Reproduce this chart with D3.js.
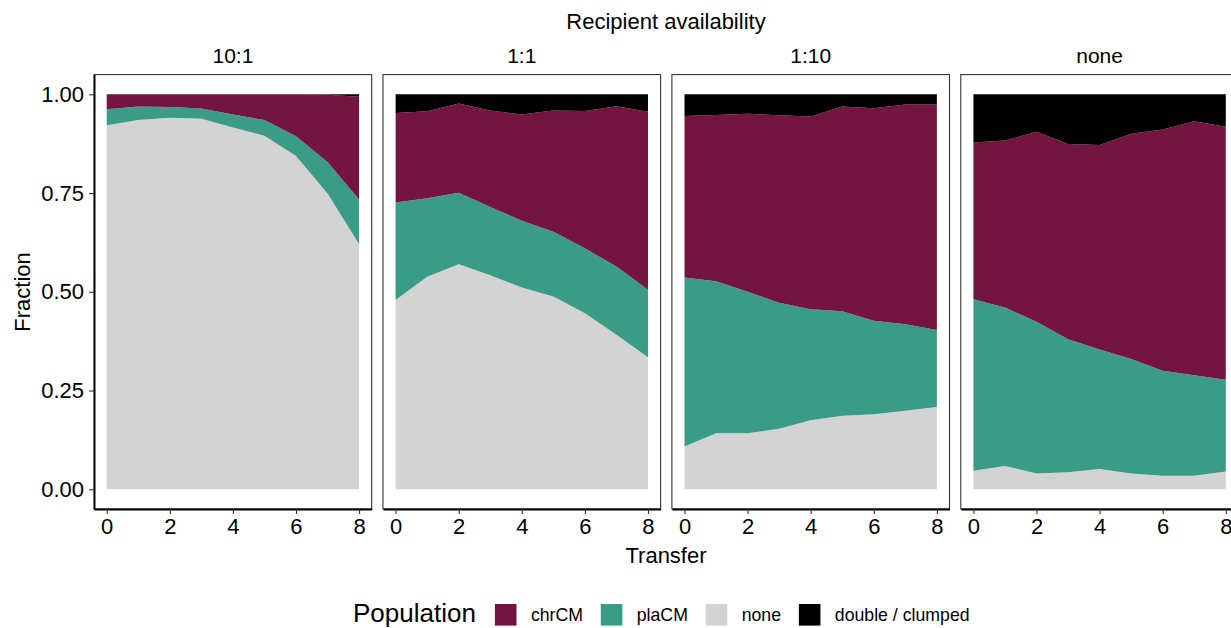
<!DOCTYPE html>
<html>
<head>
<meta charset="utf-8">
<script src="https://cdn.jsdelivr.net/npm/d3@7"></script>
<style>
  html, body { margin: 0; padding: 0; background: #ffffff; }
  svg { display: block; }
  text { font-family: "Liberation Sans", Arial, Helvetica, sans-serif; fill: #000; }
</style>
</head>
<body>
<svg id="chart" width="1231" height="628"></svg>
<script>
// Transfers on the x axis and recipient-availability facets
const transfers = [0, 1, 2, 3, 4, 5, 6, 7, 8];
const categories = ["10:1", "1:1", "1:10", "none"];
const xTicks = [0, 2, 4, 6, 8];
const yTicks = [0, 0.25, 0.5, 0.75, 1];

// Fraction of each population per transfer, one row per facet (same order as categories)
const nonePop = [
  [0.922, 0.935, 0.941, 0.938, 0.916, 0.895, 0.844, 0.749, 0.621],
  [0.479, 0.538, 0.570, 0.542, 0.511, 0.488, 0.446, 0.391, 0.334],
  [0.108, 0.142, 0.142, 0.153, 0.175, 0.186, 0.190, 0.199, 0.208],
  [0.047, 0.059, 0.040, 0.043, 0.051, 0.040, 0.034, 0.034, 0.045]
];
const plaCM = [
  [0.040, 0.034, 0.027, 0.026, 0.033, 0.040, 0.050, 0.080, 0.113],
  [0.247, 0.199, 0.181, 0.173, 0.169, 0.164, 0.164, 0.173, 0.171],
  [0.428, 0.385, 0.358, 0.319, 0.281, 0.265, 0.237, 0.219, 0.195],
  [0.434, 0.401, 0.384, 0.337, 0.303, 0.290, 0.266, 0.255, 0.232]
];
const chrCM = [
  [0.038, 0.031, 0.032, 0.036, 0.051, 0.065, 0.106, 0.170, 0.260],
  [0.227, 0.220, 0.226, 0.244, 0.269, 0.307, 0.348, 0.406, 0.451],
  [0.409, 0.421, 0.451, 0.475, 0.488, 0.518, 0.538, 0.556, 0.571],
  [0.397, 0.423, 0.481, 0.494, 0.518, 0.570, 0.611, 0.643, 0.641]
];
const doubleClumped = [
  [0.000, 0.000, 0.000, 0.000, 0.000, 0.000, 0.000, 0.001, 0.006],
  [0.047, 0.043, 0.023, 0.041, 0.051, 0.041, 0.042, 0.030, 0.044],
  [0.055, 0.052, 0.049, 0.053, 0.056, 0.031, 0.035, 0.026, 0.026],
  [0.122, 0.117, 0.095, 0.126, 0.128, 0.100, 0.089, 0.068, 0.082]
];

// Stack order (bottom to top) and legend order
const stackKeys = ["none", "plaCM", "chrCM", "double / clumped"];
const legendKeys = ["chrCM", "plaCM", "none", "double / clumped"];
const colors = {
  "chrCM": "#731441",
  "plaCM": "#3a9c87",
  "none": "#d3d3d3",
  "double / clumped": "#000000"
};
const seriesByKey = {
  "none": nonePop,
  "plaCM": plaCM,
  "chrCM": chrCM,
  "double / clumped": doubleClumped
};

const svg = d3.select("#chart");

// Facet geometry
const panelLeft0 = 94.1;
const panelStep = 288.9;
const panelW = 277.6;
const panelTop = 74.6;
const panelBottom = 509;

const y = d3.scaleLinear().domain([-0.05, 1.05]).range([panelBottom, panelTop]);
const stack = d3.stack().keys(stackKeys);

categories.forEach((cat, ci) => {
  const left = panelLeft0 + ci * panelStep;
  const x = d3.scaleLinear().domain([-0.4, 8.4]).range([left, left + panelW]);

  const rows = transfers.map((t, i) => {
    const row = { transfer: t };
    stackKeys.forEach(k => { row[k] = seriesByKey[k][ci][i]; });
    return row;
  });
  const layers = stack(rows);

  const area = d3.area()
    .x(d => x(d.data.transfer))
    .y0(d => y(d[0]))
    .y1(d => y(d[1]));

  const g = svg.append("g").attr("class", "panel");

  g.selectAll("path.layer")
    .data(layers)
    .join("path")
    .attr("class", "layer")
    .attr("fill", d => colors[d.key])
    .attr("d", area);

  // panel frame
  g.append("rect")
    .attr("x", left).attr("y", panelTop)
    .attr("width", panelW).attr("height", panelBottom - panelTop)
    .attr("fill", "none").attr("stroke", "#333").attr("stroke-width", 1.1);

  // x axis
  const xAxis = d3.axisBottom(x).tickValues(xTicks).tickSize(5).tickSizeOuter(0)
    .tickPadding(4).tickFormat(d3.format("d"));
  const ga = svg.append("g").attr("transform", `translate(0,${panelBottom})`).call(xAxis);
  ga.select(".domain").attr("stroke", "#000").attr("stroke-width", 1.8);
  ga.selectAll(".tick line").attr("stroke", "#333").attr("stroke-width", 1.1);
  ga.selectAll(".tick text").attr("font-size", 22).attr("fill", "#000")
    .attr("font-family", "Liberation Sans, Arial, sans-serif");

  // strip label
  svg.append("text")
    .attr("x", left + panelW / 2).attr("y", 63)
    .attr("text-anchor", "middle").attr("font-size", 21)
    .text(cat);

  if (ci === 0) {
    const yAxis = d3.axisLeft(y).tickValues(yTicks).tickSize(5).tickSizeOuter(0)
      .tickPadding(5).tickFormat(d3.format(".2f"));
    const gy = svg.append("g").attr("transform", `translate(${left},0)`).call(yAxis);
    gy.select(".domain").attr("stroke", "#000").attr("stroke-width", 1.8);
    gy.selectAll(".tick line").attr("stroke", "#333").attr("stroke-width", 1.1);
    gy.selectAll(".tick text").attr("font-size", 22).attr("fill", "#000")
      .attr("font-family", "Liberation Sans, Arial, sans-serif");
  }
});

// Titles
svg.append("text")
  .attr("x", 666).attr("y", 29)
  .attr("text-anchor", "middle").attr("font-size", 22)
  .text("Recipient availability");

svg.append("text")
  .attr("x", 666).attr("y", 563)
  .attr("text-anchor", "middle").attr("font-size", 22)
  .text("Transfer");

svg.append("text")
  .attr("transform", "translate(30,292) rotate(-90)")
  .attr("text-anchor", "middle").attr("font-size", 22)
  .text("Fraction");

// Legend
const legend = svg.append("g").attr("class", "legend");
const legTitle = legend.append("text")
  .attr("x", 353).attr("y", 621.5)
  .attr("font-size", 26)
  .text("Population");
let lx = 353 + legTitle.node().getComputedTextLength() + 19;
const keySize = 21.6;
legendKeys.forEach(k => {
  legend.append("rect")
    .attr("x", lx).attr("y", 604)
    .attr("width", keySize).attr("height", keySize)
    .attr("fill", colors[k]);
  const t = legend.append("text")
    .attr("x", lx + keySize + 14.4).attr("y", 621)
    .attr("font-size", 17.7)
    .text(k);
  lx += keySize + 14.4 + t.node().getComputedTextLength() + 17.8;
});
</script>
</body>
</html>
